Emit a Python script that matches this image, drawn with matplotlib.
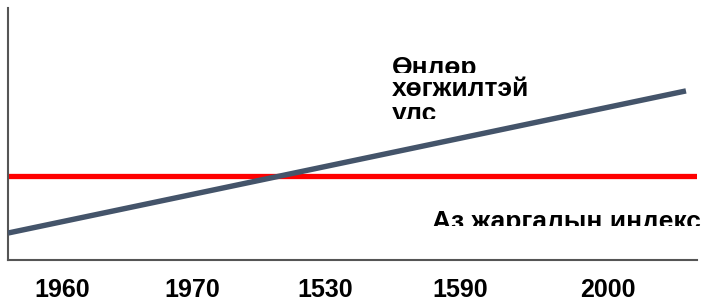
import matplotlib
matplotlib.use("Agg")
import matplotlib.pyplot as plt
from matplotlib.patches import Rectangle

# data
tick_labels = ['1960', '1970', '1530', '1590', '2000']
tick_pos = [7.8, 26.7, 46.0, 65.6, 87.0]
gdp_x = [0.0, 98.4]
gdp_y = [10.7, 67.1]
happy_x = [0.0, 100.0]
happy_y = [33.3, 33.3]
gdp_label = ['Өнлөр', 'хөгжилтэй', 'улс']
happy_label = 'Аз жаргалын индекс'

plt.rcParams['font.family'] = ['Liberation Sans', 'DejaVu Sans']

W, H = 704, 302
fig = plt.figure(figsize=(W / 100, H / 100), dpi=100)
ax = fig.add_axes([8 / W, 42 / H, 689 / W, 252 / H])
ax.set_xlim(0, 100)
ax.set_ylim(0, 100)

ax.plot(happy_x, happy_y, color='#ff0000', lw=3.8, solid_capstyle='butt', zorder=2)
ax.plot(gdp_x, gdp_y, color='#44546a', lw=3.9, solid_capstyle='butt', zorder=3)

for s in ['top', 'right']:
    ax.spines[s].set_visible(False)
for s in ['left', 'bottom']:
    ax.spines[s].set_color('#555555')
    ax.spines[s].set_linewidth(1.5)
ax.set_yticks([])
ax.set_xticks(tick_pos)
ax.set_xticklabels(tick_labels, fontsize=18, fontweight='bold')
ax.tick_params(axis='x', length=0, pad=13)


def clipped_text(x, base, txt, top, bottom):
    # text cut off at the top/bottom, as in the original slide
    t = fig.text(x / W, 1 - base / H, txt, fontsize=19, fontweight='bold',
                 va='baseline', ha='left')
    t.set_clip_path(Rectangle((x - 10, H - bottom), 330, bottom - top, transform=None))
    t.set_clip_on(True)


clipped_text(392, 75.5, gdp_label[0], 57, 73)
clipped_text(392, 95.5, gdp_label[1], 74, 100)
clipped_text(392, 121.5, gdp_label[2], 100, 118.5)
clipped_text(432, 229, happy_label, 200, 225.5)

fig.savefig('out.png', dpi=100)
